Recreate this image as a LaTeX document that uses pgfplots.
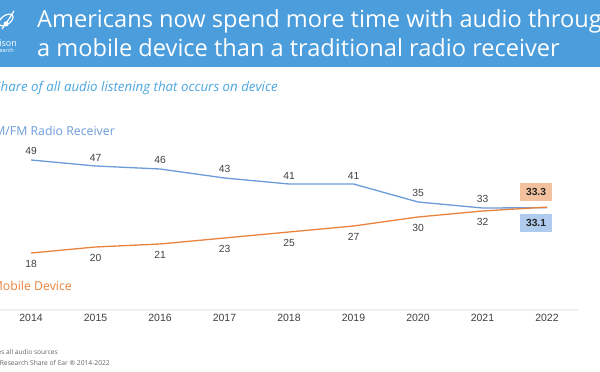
\documentclass[border=0pt]{standalone}
\usepackage{pgfplots}
\pgfplotsset{compat=1.18}
\usepackage{fontspec}
\setmainfont{Open Sans}
\newfontfamily\arialf{Liberation Sans}
\definecolor{banner}{HTML}{4B9DDC}
\definecolor{subblue}{HTML}{4DA6E0}
\definecolor{lineblue}{HTML}{6C9CDA}
\definecolor{lineorange}{HTML}{E9833C}
\definecolor{boxorange}{HTML}{F3C19D}
\definecolor{boxblue}{HTML}{AFCBEE}
\definecolor{txtgray}{HTML}{404040}
\begin{document}
\begin{tikzpicture}[x=1pt,y=1pt]
\path[use as bounding box] (0,0) rectangle (600,372);
\clip (0,0) rectangle (600,372);
\fill[white] (0,0) rectangle (600,372);
\begin{axis}[
  at={(0pt,62pt)}, anchor=south west,
  scale only axis, width=578pt, height=310pt,
  xmin=2013.519, xmax=2022.48, ymin=-1, ymax=102.33,
  axis x line*=bottom, axis y line=none,
  x axis line style={draw=black!6, line width=1.5pt, -},
  xtick={2014,...,2022}, major tick length=0pt,
  xticklabel style={font=\arialf\fontsize{10.5}{11}\selectfont, text=txtgray, yshift=-1pt},
  /pgf/number format/1000 sep={},
  /pgf/number format/assume math mode=true,
  clip=false,
]
\addplot[lineblue, line width=1.3pt, mark=none,
  nodes near coords, point meta=explicit symbolic,
  every node near coord/.append style={font=\arialf\fontsize{10.3}{11}\selectfont, text=txtgray, anchor=south, yshift=1pt}]
  coordinates {(2014,49)[49] (2015,47)[47] (2016,46)[46] (2017,43)[43] (2018,41)[41] (2019,41)[41] (2020,35)[35] (2021,33)[33] (2022,33.1)[]};
\addplot[lineorange, line width=1.3pt, mark=none,
  nodes near coords, point meta=explicit symbolic,
  every node near coord/.append style={font=\arialf\fontsize{10.3}{11}\selectfont, text=txtgray, anchor=north, yshift=-3pt}]
  coordinates {(2014,18)[18] (2015,20)[20] (2016,21)[21] (2017,23)[23] (2018,25)[25] (2019,27)[27] (2020,30)[30] (2021,32)[32] (2022,33.3)[]};
% end-point value boxes
\addplot[draw=none, mark=none, nodes near coords, point meta=explicit symbolic,
  every node near coord/.append style={font=\arialf\bfseries\fontsize{10.3}{11}\selectfont, text=black!85, fill=boxorange, anchor=center, minimum width=32pt, minimum height=18pt, inner sep=0pt, xshift=-11pt, yshift=15pt}]
  coordinates {(2022,33.3)[33.3]};
\addplot[draw=none, mark=none, nodes near coords, point meta=explicit symbolic,
  every node near coord/.append style={font=\arialf\bfseries\fontsize{10.3}{11}\selectfont, text=black!85, fill=boxblue, anchor=center, minimum width=32pt, minimum height=18pt, inner sep=0pt, xshift=-11pt, yshift=-15pt}]
  coordinates {(2022,33.1)[33.1]};
\end{axis}
% banner
\fill[banner] (0,305) rectangle (600,372);
\node[anchor=west, text=white, inner sep=0pt, font=\fontsize{23.6}{25}\selectfont] at (37,351) {Americans now spend more time with audio through};
\node[anchor=west, text=white, inner sep=0pt, font=\fontsize{23.6}{25}\selectfont] at (37,324) {a mobile device than a traditional radio receiver};
% logo fragment
\draw[white, line width=1.2pt] (6,352) ellipse [x radius=8, y radius=4.5, rotate=35];
\draw[white, line width=1.2pt] (2,343) -- (9,353) -- (14,361);
\fill[white] (6,348) circle (2.5);
\node[anchor=east, text=white, inner sep=0pt, font=\fontsize{9}{10}\selectfont] at (17,329) {Edison};
\node[anchor=east, text=white, inner sep=0pt, font=\fontsize{5.5}{6}\selectfont] at (14,321.5) {Research};
% subtitle
\node[anchor=east, text=subblue, inner sep=0pt, font=\itshape\fontsize{13.3}{15}\selectfont] at (278,284) {Share of all audio listening that occurs on device};
% series labels
\node[anchor=east, text=lineblue, inner sep=0pt, font=\fontsize{12.3}{14}\selectfont] at (115,241) {AM/FM Radio Receiver};
\node[anchor=east, text=lineorange, inner sep=0pt, font=\fontsize{12.3}{14}\selectfont] at (72,86) {Mobile Device};
% footnotes
\node[anchor=east, text=black!60, inner sep=0pt, font=\fontsize{6.6}{7}\selectfont] at (58,20) {Note: Includes all audio sources};
\node[anchor=east, text=black!60, inner sep=0pt, font=\fontsize{6.7}{7}\selectfont] at (110,9) {Source: Edison Research Share of Ear \textregistered{} 2014-2022};
\end{tikzpicture}
\end{document}
